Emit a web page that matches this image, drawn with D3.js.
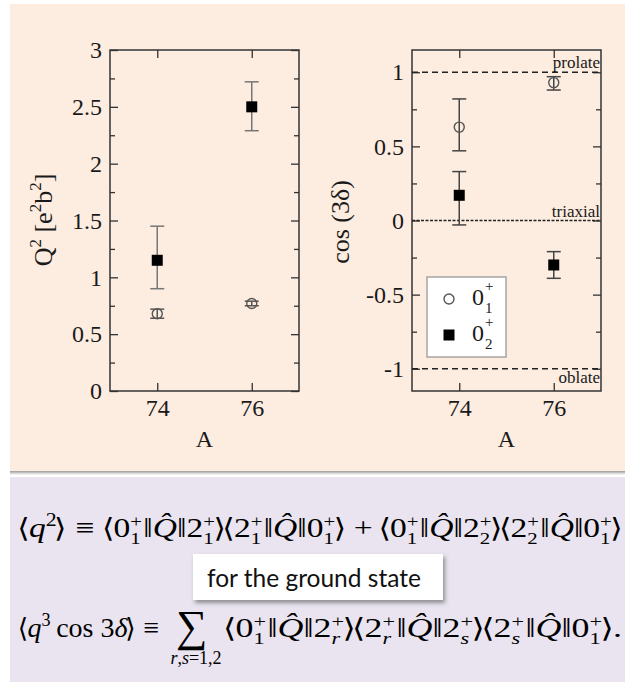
<!DOCTYPE html>
<html><head><meta charset="utf-8">
<script src="https://cdn.jsdelivr.net/npm/d3@7"></script>
<style>
body{margin:0;background:#fff;}
svg{display:block;}
</style></head>
<body>
<script>
// ---------- data ----------
const massA = [74, 76];
const xTicks = [74, 76];
// left panel: Q^2 [e^2 b^2]
const q2State1 = [0.68, 0.77];
const q2State1Lo = [0.64, 0.75];
const q2State1Hi = [0.72, 0.79];
const q2State2 = [1.15, 2.50];
const q2State2Lo = [0.90, 2.29];
const q2State2Hi = [1.45, 2.72];
const q2Ticks = [0, 0.5, 1, 1.5, 2, 2.5, 3];
const q2Minor = [0.25, 0.75, 1.25, 1.75, 2.25, 2.75];
// right panel: cos(3 delta)
const cosState1 = [0.63, 0.93];
const cosState1Lo = [0.47, 0.88];
const cosState1Hi = [0.82, 0.97];
const cosState2 = [0.17, -0.30];
const cosState2Lo = [-0.03, -0.39];
const cosState2Hi = [0.33, -0.21];
const cosTicks = [-1, -0.5, 0, 0.5, 1];
const cosMinor = [-0.75, -0.25, 0.25, 0.75];
const refValues = [1, 0, -1];
const refLabels = ["prolate", "triaxial", "oblate"];

const W = 625, H = 682;
const svg = d3.select("body").append("svg").attr("width", W).attr("height", H);
const defs = svg.append("defs");
const f = defs.append("filter").attr("id","sh").attr("x","-10%").attr("y","-20%").attr("width","130%").attr("height","160%");
f.append("feDropShadow").attr("dx",2).attr("dy",3).attr("stdDeviation",2).attr("flood-color","#555").attr("flood-opacity",0.6);
const gr = defs.append("linearGradient").attr("id","sg").attr("x1",0).attr("y1",0).attr("x2",0).attr("y2",1);
gr.append("stop").attr("offset","0%").attr("stop-color","#9a9a9a");
gr.append("stop").attr("offset","100%").attr("stop-color","#ffffff");

// backgrounds
svg.append("rect").attr("x",10).attr("y",4).attr("width",615).attr("height",467).attr("fill","#fdece0");
svg.append("rect").attr("x",10).attr("y",471).attr("width",615).attr("height",4).attr("fill","url(#sg)");
svg.append("rect").attr("x",10).attr("y",477).attr("width",615).attr("height",205).attr("fill","#e9e4ef");

const serif = "'Liberation Serif','Times New Roman',serif";
const ink = "#1a1a1a";

function panel(opt){
  const g = svg.append("g");
  const x = d3.scaleLinear().domain([73,77]).range([opt.x0, opt.x1]);
  const y = d3.scaleLinear().domain(opt.ydom).range([391, 50]);
  const axStyle = sel => { sel.select(".domain").remove(); sel.selectAll("line").attr("stroke","#333").attr("stroke-width",1.3);
     sel.selectAll("text").attr("font-family",serif).attr("font-size",24).attr("fill",ink); };
  g.append("g").attr("transform",`translate(${opt.x0},0)`)
    .call(d3.axisLeft(y).tickValues(opt.ticks).tickSize(-8).tickPadding(8).tickFormat(d => String(d)))
    .call(axStyle);
  g.append("g").attr("transform",`translate(${opt.x0},0)`)
    .call(d3.axisLeft(y).tickValues(opt.minor).tickSize(-5).tickFormat("")).call(axStyle);
  g.append("g").attr("transform",`translate(${opt.x1},0)`)
    .call(d3.axisRight(y).tickValues(opt.ticks).tickSize(-8).tickFormat("")).call(axStyle);
  g.append("g").attr("transform",`translate(${opt.x1},0)`)
    .call(d3.axisRight(y).tickValues(opt.minor).tickSize(-5).tickFormat("")).call(axStyle);
  g.append("g").attr("transform",`translate(0,391)`)
    .call(d3.axisBottom(x).tickValues(xTicks).tickSize(-8).tickPadding(8).tickFormat(d3.format("d")))
    .call(axStyle);
  g.append("g").attr("transform",`translate(0,50)`)
    .call(d3.axisTop(x).tickValues(xTicks).tickSize(-8).tickFormat("")).call(axStyle);
  g.append("rect").attr("x",opt.x0).attr("y",50).attr("width",opt.x1-opt.x0).attr("height",341)
    .attr("fill","none").attr("stroke","#333").attr("stroke-width",1.5);
  g.append("text").attr("x",(opt.x0+opt.x1)/2).attr("y",447).attr("text-anchor","middle")
    .attr("font-family",serif).attr("font-size",24).attr("fill",ink).text("A");
  return {g,x,y};
}

function errorBars(p, vals, lo, hi, color){
  const cw = 7;
  const eg = p.g.append("g").attr("stroke",color).attr("stroke-width",1.5).attr("fill","none");
  massA.forEach((a,i)=>{
    const cx = p.x(a);
    eg.append("line").attr("x1",cx).attr("x2",cx).attr("y1",p.y(lo[i])).attr("y2",p.y(hi[i]));
    eg.append("line").attr("x1",cx-cw).attr("x2",cx+cw).attr("y1",p.y(lo[i])).attr("y2",p.y(lo[i]));
    eg.append("line").attr("x1",cx-cw).attr("x2",cx+cw).attr("y1",p.y(hi[i])).attr("y2",p.y(hi[i]));
  });
}
function circles(p, vals){
  p.g.selectAll(null).data(vals).enter().append("circle")
    .attr("cx",(d,i)=>p.x(massA[i])).attr("cy",d=>p.y(d)).attr("r",5)
    .attr("fill","none").attr("stroke","#555").attr("stroke-width",1.4);
}
function squares(p, vals){
  p.g.selectAll(null).data(vals).enter().append("rect")
    .attr("x",(d,i)=>p.x(massA[i])-5.5).attr("y",d=>p.y(d)-5.5).attr("width",11).attr("height",11)
    .attr("fill","#000");
}

// left panel
const L = panel({x0:110, x1:299, ydom:[0,3], ticks:q2Ticks, minor:q2Minor});
errorBars(L, q2State1, q2State1Lo, q2State1Hi, "#555");
errorBars(L, q2State2, q2State2Lo, q2State2Hi, "#777");
circles(L, q2State1);
squares(L, q2State2);
const lyl = svg.append("text").attr("transform","translate(52,220) rotate(-90)").attr("text-anchor","middle")
  .attr("font-family",serif).attr("font-size",26).attr("fill",ink);
lyl.append("tspan").text("Q");
lyl.append("tspan").attr("dy",-11).attr("font-size",17).text("2");
lyl.append("tspan").attr("dy",11).text(" [e");
lyl.append("tspan").attr("dy",-11).attr("font-size",17).text("2");
lyl.append("tspan").attr("dy",11).text("b");
lyl.append("tspan").attr("dy",-11).attr("font-size",17).text("2");
lyl.append("tspan").attr("dy",11).text("]");

// right panel
const R = panel({x0:412, x1:601, ydom:[-1.15,1.15], ticks:cosTicks, minor:cosMinor});
refValues.forEach((v,i)=>{
  R.g.append("line").attr("x1",R.x(73)).attr("x2",R.x(77)).attr("y1",R.y(v)).attr("y2",R.y(v))
    .attr("stroke","#222").attr("stroke-width",1.3).attr("stroke-dasharray", v===0 ? "3,1.5" : "6,4");
  R.g.append("text").attr("x",R.x(77)-1).attr("y",R.y(v) + (v===-1 ? 14 : -4)).attr("text-anchor","end")
    .attr("font-family",serif).attr("font-size",17).attr("fill",ink).text(refLabels[i]);
});
errorBars(R, cosState1, cosState1Lo, cosState1Hi, "#444");
errorBars(R, cosState2, cosState2Lo, cosState2Hi, "#444");
circles(R, cosState1);
squares(R, cosState2);
svg.append("text").attr("transform","translate(349,222) rotate(-90)").attr("text-anchor","middle")
  .attr("font-family",serif).attr("font-size",26).attr("fill",ink).text("cos (3δ)");

// legend
const lg = R.g.append("g");
lg.append("rect").attr("x",427).attr("y",277).attr("width",79).attr("height",80)
  .attr("fill","#fff").attr("stroke","#999").attr("stroke-width",1.3);
lg.append("circle").attr("cx",449).attr("cy",299).attr("r",5).attr("fill","none").attr("stroke","#555").attr("stroke-width",1.4);
lg.append("rect").attr("x",443.5).attr("y",329.5).attr("width",11).attr("height",11).attr("fill","#000");
[["1",305],["2",341]].forEach(([s,yb])=>{
  lg.append("text").attr("x",472).attr("y",yb).attr("font-family",serif).attr("font-size",24).attr("fill",ink).text("0");
  lg.append("text").attr("x",485).attr("y",yb-14).attr("font-family",serif).attr("font-size",15).attr("fill",ink).text("+");
  lg.append("text").attr("x",485).attr("y",yb+8).attr("font-family",serif).attr("font-size",15).attr("fill",ink).text(s);
});

// ---------- equations ----------
const eqFont = "'Liberation Serif','DejaVu Serif',serif";
function typeset(x0, y0, tokens, fs){
  const g = svg.append("g");
  let x = x0;
  const put = (s, xx, yy, size, it) => {
    const t = g.append("text").attr("x",xx).attr("y",yy).attr("font-family",eqFont)
      .attr("font-size",size).attr("fill","#000").attr("font-style", it ? "italic" : "normal").text(s);
    return t.node().getComputedTextLength();
  };
  tokens.forEach(tk=>{
    if (tk.st){
      const w1 = put(tk.st[0], x, y0 - fs*0.36, fs*0.62, false);
      const w2 = put(tk.st[1], x, y0 + fs*0.24, fs*0.62, tk.it);
      x += Math.max(w1,w2) + 1;
    } else if (tk.sup){
      x += put(tk.sup, x, y0 - fs*0.38, fs*0.65, false);
    } else if (tk.br){
      const w = put(tk.s, x - fs*0.08, y0, fs*0.95, false);
      x += w * 0.72;
    } else if (tk.sp){
      x += fs * tk.sp;
    } else {
      x += put(tk.s, x, y0, tk.fs || fs, tk.it);
    }
  });
  return {g, w: x - x0};
}
function fit(tokens, fs, x0, x1, y0){
  const r = typeset(x0, y0, tokens, fs);
  const s = (x1 - x0) / r.w;
  r.g.attr("transform",`translate(${x0},${y0}) scale(${s},1) translate(${-x0},${-y0})`);
  return r;
}
const LB = {s:"⟨", br:true}, RB = {s:"⟩", br:true};
function matEl(a, sa, b, sb, itA, itB){
  return [LB,{s:a},{st:["+",sa],it:itA},{s:"‖"},{s:"Q̂",it:true},{s:"‖"},{s:b},{st:["+",sb],it:itB},RB];
}
const eqLine1 = [LB,{s:"q",it:true},{sup:"2"},RB,{sp:0.3},{s:"≡"},{sp:0.3}]
  .concat(matEl("0","1","2","1"), matEl("2","1","0","1"), [{sp:0.25},{s:"+"},{sp:0.25}],
          matEl("0","1","2","2"), matEl("2","2","0","1"));
fit(eqLine1, 28, 20, 622, 537);

const pre2 = typeset(20, 637, [LB,{s:"q",it:true},{sup:"3"},{sp:0.2},{s:"cos 3"},{s:"δ",it:true},RB,{sp:0.3},{s:"≡"}], 28);
const sigX = Math.max(20 + pre2.w + 8, 176);
typeset(sigX, 641, [{s:"∑"}], 44);
const prodX = sigX + 50;
fit(matEl("0","1","2","r",false,true).concat(matEl("2","r","2","s",true,true), matEl("2","s","0","1",true,false), [{s:" ."}]), 28, prodX, 622, 637);
const lim = svg.append("text").attr("x", sigX + 20).attr("y",664).attr("text-anchor","middle")
  .attr("font-family",eqFont).attr("font-size",18).attr("fill","#000");
lim.append("tspan").attr("font-style","italic").text("r");
lim.append("tspan").text(",");
lim.append("tspan").attr("font-style","italic").text("s");
lim.append("tspan").text("=1,2");

// white note box
svg.append("rect").attr("x",193).attr("y",554).attr("width",250).attr("height",46).attr("fill","#fff").attr("filter","url(#sh)");
svg.append("text").attr("x",207).attr("y",587).attr("font-family","Lato,'Open Sans',sans-serif").attr("font-size",24.5)
  .attr("fill","#111").text("for the ground state");
</script>
</body></html>
